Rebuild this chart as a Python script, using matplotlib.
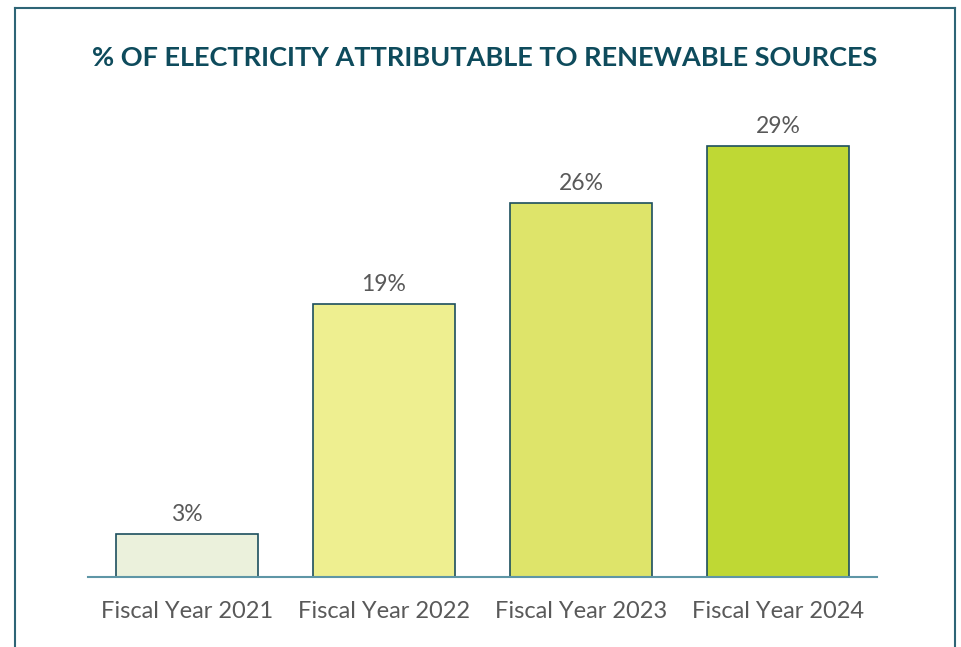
import matplotlib
matplotlib.use("Agg")
import matplotlib.pyplot as plt

categories = ["Fiscal Year 2021", "Fiscal Year 2022", "Fiscal Year 2023", "Fiscal Year 2024"]
values = [3, 19, 26, 30]
value_labels = ["3%", "19%", "26%", "29%"]
bar_colors = ["#EBF1DC", "#EEEF90", "#DEE46A", "#BFD834"]
title = "% OF ELECTRICITY ATTRIBUTABLE TO RENEWABLE SOURCES"

plt.rcParams['font.family'] = ['Lato', 'DejaVu Sans']

W, H = 961, 647
fig = plt.figure(figsize=(W / 100, H / 100), dpi=100)

# outer border (left, top, right)
bc = "#2E6576"
fig.add_artist(plt.Line2D([14.5 / W, 14.5 / W], [0, 1 - 7.5 / H], color=bc, lw=1.5, transform=fig.transFigure))
fig.add_artist(plt.Line2D([14.5 / W, 954.5 / W], [1 - 7.5 / H, 1 - 7.5 / H], color=bc, lw=1.5, transform=fig.transFigure))
fig.add_artist(plt.Line2D([954.5 / W, 954.5 / W], [0, 1 - 7.5 / H], color=bc, lw=1.5, transform=fig.transFigure))

left, right = 88 / W, 877 / W
bottom = (H - 577) / H
top = (H - 100) / H
ax = fig.add_axes([left, bottom, right - left, top - bottom])

x = range(len(categories))
ax.bar(x, values, width=0.72, color=bar_colors, edgecolor="#1C4F5E", linewidth=1.2, zorder=2)
ax.set_xlim(-0.5, len(categories) - 0.5)
ax.set_ylim(0, 477 / 14.375)

for xi, v, lab in zip(x, values, value_labels):
    ax.annotate(lab, (xi, v), xytext=(0, 6.5), textcoords="offset points",
                ha="center", va="bottom", fontsize=16.5, color="#595959")

for s in ["top", "right", "left"]:
    ax.spines[s].set_visible(False)
ax.spines["bottom"].set_color("#5E96A6")
ax.spines["bottom"].set_linewidth(1.5)
ax.spines["bottom"].set_zorder(3)
ax.set_yticks([])
ax.set_xticks(list(x))
ax.set_xticklabels(categories, fontsize=17, color="#595959")
ax.tick_params(axis="x", length=0, pad=17)

fig.text(485 / W, 1 - 58 / H, title, ha="center", va="center", fontsize=19.5,
         fontweight="bold", color="#0E4B5C")

fig.savefig("out.png", dpi=100)
